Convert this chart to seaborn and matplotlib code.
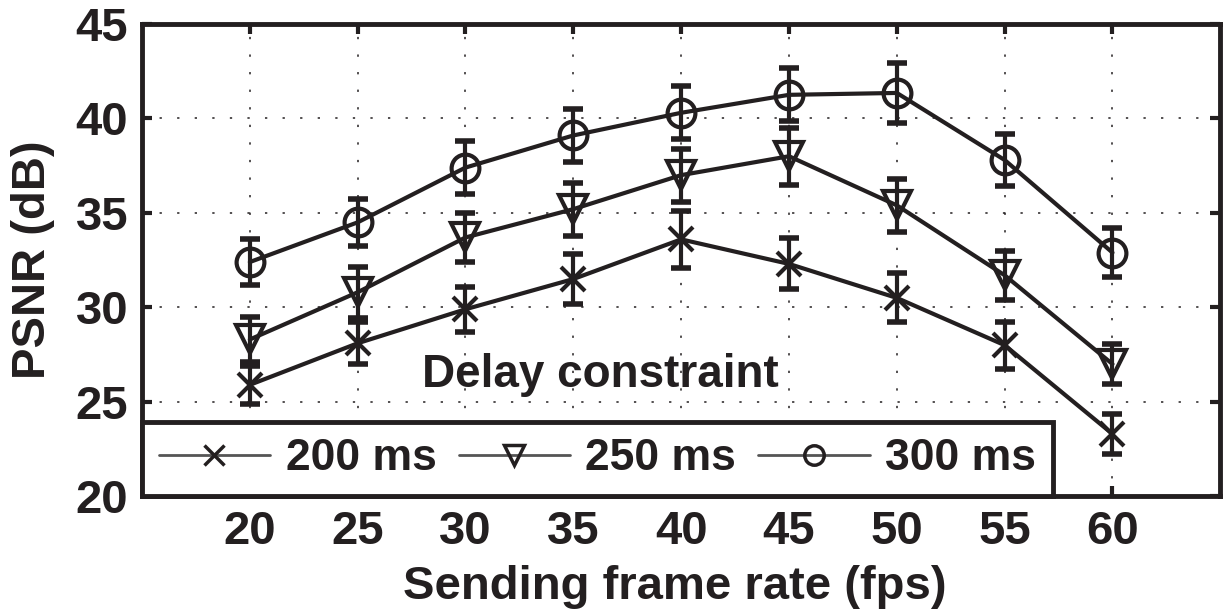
import numpy as np
import pandas as pd
import matplotlib
matplotlib.use("Agg")
import matplotlib.pyplot as plt
from matplotlib.lines import Line2D
import seaborn as sns

# datos
frame_rate = [20, 25, 30, 35, 40, 45, 50, 55, 60]
psnr_200 = [25.9, 28.1, 29.9, 31.5, 33.6, 32.3, 30.5, 28.0, 23.3]
psnr_250 = [28.3, 30.8, 33.7, 35.2, 37.0, 38.0, 35.4, 31.7, 27.0]
psnr_300 = [32.4, 34.5, 37.4, 39.1, 40.3, 41.25, 41.35, 37.8, 32.9]
err_200 = [1.0, 1.1, 1.2, 1.3, 1.5, 1.35, 1.3, 1.25, 1.05]
err_250 = [1.2, 1.35, 1.3, 1.4, 1.4, 1.5, 1.4, 1.3, 1.05]
err_300 = [1.2, 1.25, 1.4, 1.4, 1.4, 1.4, 1.6, 1.4, 1.3]
labels = ['200 ms', '250 ms', '300 ms']
markers = ['x', 'v', 'o']

df = pd.concat([
    pd.DataFrame({'fps': frame_rate, 'psnr': psnr_200, 'err': err_200, 'delay': labels[0]}),
    pd.DataFrame({'fps': frame_rate, 'psnr': psnr_250, 'err': err_250, 'delay': labels[1]}),
    pd.DataFrame({'fps': frame_rate, 'psnr': psnr_300, 'err': err_300, 'delay': labels[2]}),
])

ink = '#231f20'
sns.set_theme(style="ticks")
plt.rcParams['font.family'] = ['Liberation Sans', 'DejaVu Sans']
plt.rcParams['font.weight'] = 'bold'

fig = plt.figure(figsize=(12.24, 6.15), dpi=100)
ax = fig.add_axes([0.116, 0.193, 0.881, 0.768])

for lab, mk in zip(labels, markers):
    sub = df[df['delay'] == lab]
    ax.errorbar(sub['fps'], sub['psnr'], yerr=sub['err'], fmt='none', ecolor=ink,
                elinewidth=3, capsize=7, capthick=4, zorder=3)
    sns.lineplot(data=sub, x='fps', y='psnr', ax=ax, color=ink, linewidth=3,
                 marker=mk, markersize=20 if mk != 'x' else 17, markerfacecolor='none',
                 markeredgecolor=ink, markeredgewidth=3, legend=False, zorder=4)

ax.set_xlim(15, 65)
ax.set_ylim(20, 45)
ax.set_xticks(frame_rate)
ax.set_yticks([20, 25, 30, 35, 40, 45])
ax.grid(True, color=ink, linestyle=(0, (1.5, 10)), linewidth=1.1)
ax.tick_params(direction='in', top=True, right=True, length=7, width=3,
               labelsize=34, pad=10, colors=ink)
for lbl in ax.get_xticklabels() + ax.get_yticklabels():
    lbl.set_fontweight('bold')
for s in ax.spines.values():
    s.set_linewidth(3.5)
    s.set_color(ink)

ax.set_xlabel('Sending frame rate (fps)', fontsize=34, fontweight='bold', color=ink)
ax.set_ylabel('PSNR (dB)', fontsize=34, fontweight='bold', color=ink)
ax.xaxis.set_label_coords(0.494, -0.145)
ax.yaxis.set_label_coords(-0.081, 0.5)

ax.text(28.0, 26.4, 'Delay constraint', fontsize=33, fontweight='bold', va='center',
        ha='left', color=ink)

handles = [Line2D([], [], color='#555555', linewidth=2, marker=m, markersize=14,
                  markerfacecolor='none', markeredgecolor=ink, markeredgewidth=2.5)
           for m in markers]
leg = ax.legend(handles, labels, loc='lower left', bbox_to_anchor=(0, 0), ncol=3,
                frameon=True, fancybox=False, borderaxespad=0,
                handlelength=2.5, columnspacing=0.5, handletextpad=0.35,
                borderpad=0.38, prop={'weight': 'bold', 'size': 32})
for t in leg.get_texts():
    t.set_color(ink)
leg.get_frame().set_edgecolor(ink)
leg.get_frame().set_linewidth(3.5)
leg.get_frame().set_alpha(1)
leg.set_zorder(5)

fig.savefig('out.png', dpi=100, facecolor='white')
